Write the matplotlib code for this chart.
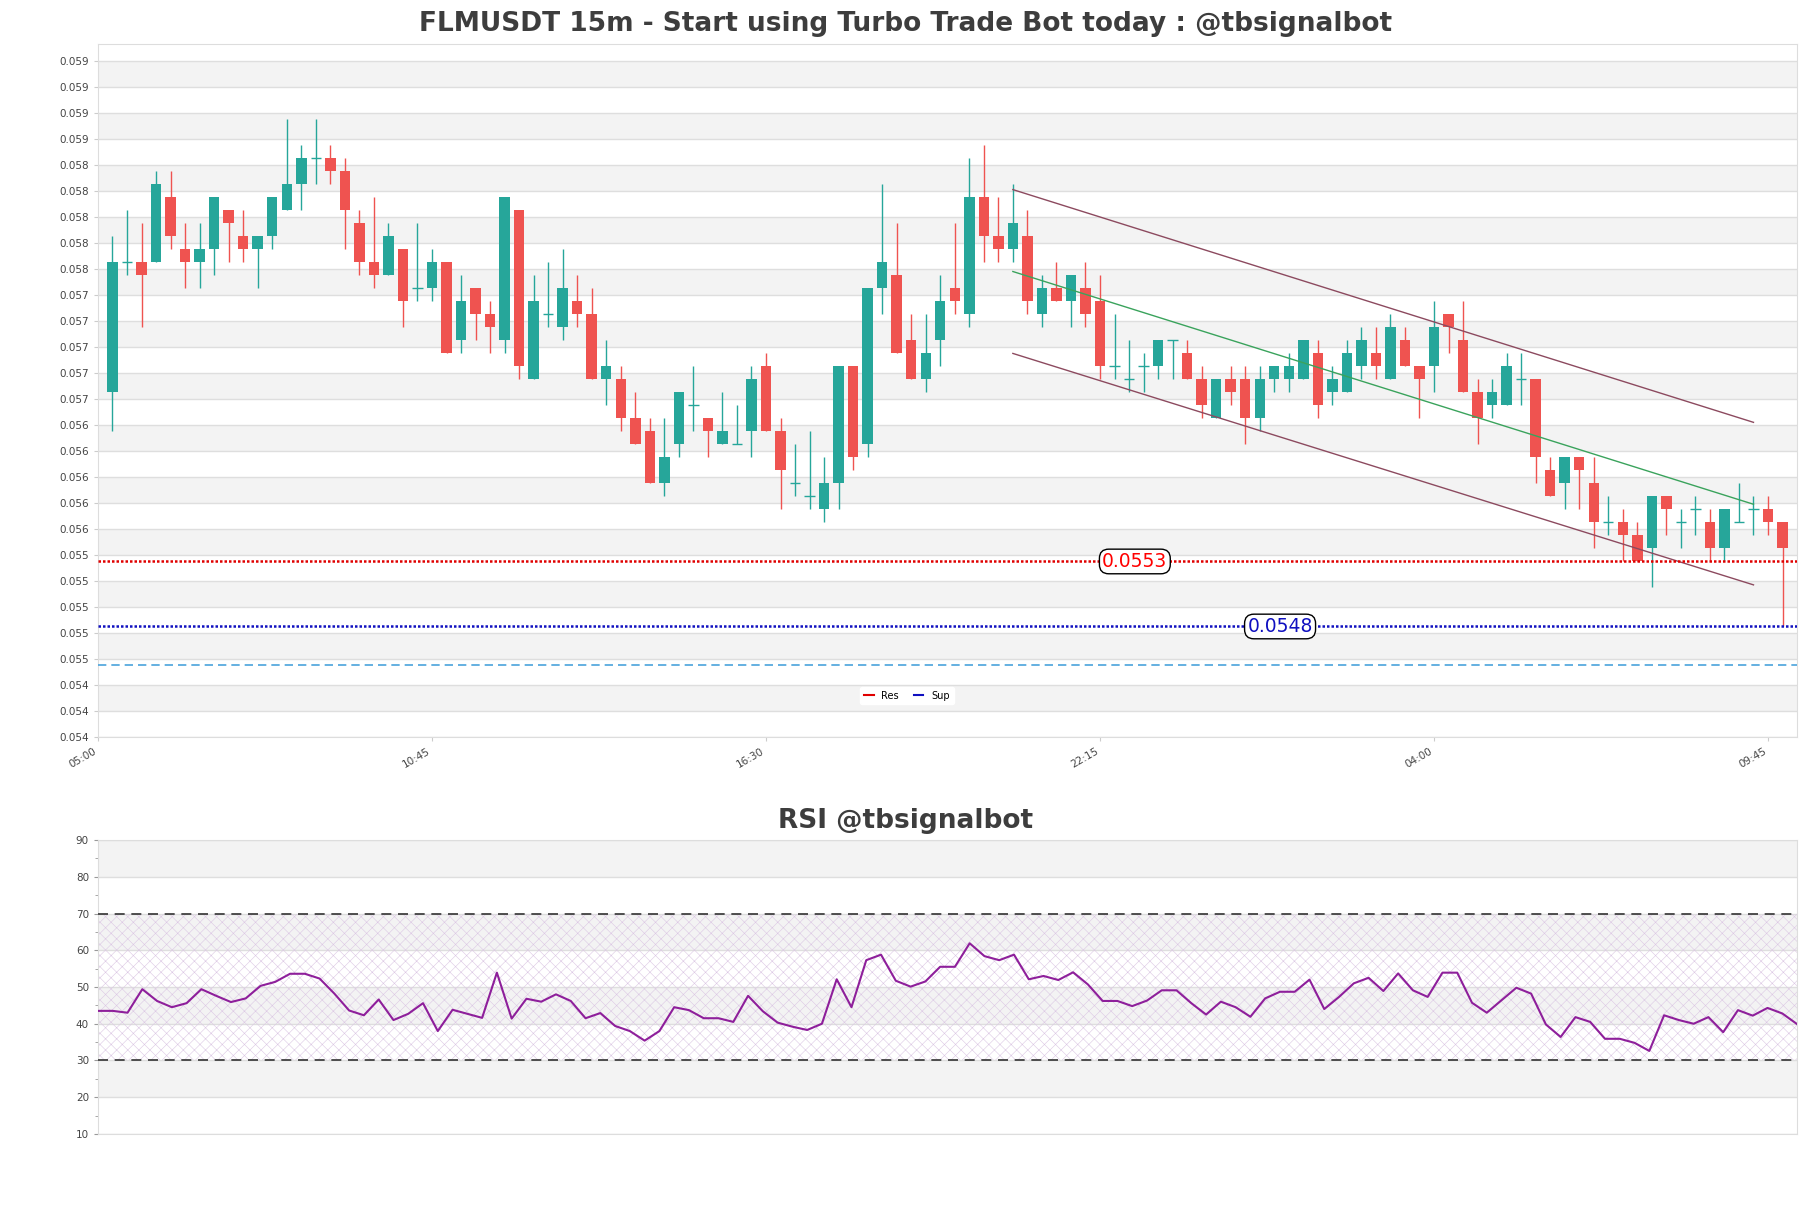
import matplotlib
matplotlib.use("Agg")
import matplotlib.pyplot as plt
import numpy as np
from matplotlib.lines import Line2D
from matplotlib.ticker import FormatStrFormatter, MultipleLocator

# FLMUSDT 15m candles, 05:15 -> 10:00 next day
opens = [
    0.0566, 0.0576, 0.0576, 0.0576, 0.0581, 0.0577, 0.0576, 0.0577, 0.0580, 0.0578,
    0.0577, 0.0578, 0.0580, 0.0582, 0.0584, 0.0584, 0.0583, 0.0579, 0.0576, 0.0575,
    0.0577, 0.0574, 0.0574, 0.0576, 0.0570, 0.0574, 0.0572, 0.0570, 0.0580, 0.0567,
    0.0572, 0.0571, 0.0573, 0.0572, 0.0567, 0.0567, 0.0564, 0.0563, 0.0559, 0.0562,
    0.0565, 0.0564, 0.0562, 0.0562, 0.0563, 0.0568, 0.0563, 0.0559, 0.0558, 0.0557,
    0.0559, 0.0568, 0.0562, 0.0574, 0.0575, 0.0570, 0.0567, 0.0570, 0.0574, 0.0572,
    0.0581, 0.0578, 0.0577, 0.0578, 0.0572, 0.0574, 0.0573, 0.0574, 0.0573, 0.0568,
    0.0567, 0.0568, 0.0568, 0.0570, 0.0569, 0.0567, 0.0564, 0.0567, 0.0567, 0.0564,
    0.0567, 0.0567, 0.0567, 0.0569, 0.0566, 0.0566, 0.0568, 0.0569, 0.0567, 0.0570,
    0.0568, 0.0568, 0.0572, 0.0570, 0.0566, 0.0565, 0.0565, 0.0567, 0.0567, 0.0560,
    0.0559, 0.0561, 0.0559, 0.0556, 0.0556, 0.0555, 0.0554, 0.0558, 0.0556, 0.0557,
    0.0556, 0.0554, 0.0556, 0.0557, 0.0557, 0.0556,
]
highs = [
    0.0578, 0.0580, 0.0579, 0.0583, 0.0583, 0.0579, 0.0579, 0.0581, 0.0580, 0.0580,
    0.0578, 0.0581, 0.0587, 0.0585, 0.0587, 0.0585, 0.0584, 0.0580, 0.0581, 0.0579,
    0.0577, 0.0579, 0.0577, 0.0576, 0.0575, 0.0574, 0.0573, 0.0581, 0.0580, 0.0575,
    0.0576, 0.0577, 0.0575, 0.0574, 0.0570, 0.0568, 0.0566, 0.0564, 0.0564, 0.0566,
    0.0568, 0.0564, 0.0566, 0.0565, 0.0568, 0.0569, 0.0564, 0.0562, 0.0563, 0.0561,
    0.0568, 0.0568, 0.0574, 0.0582, 0.0579, 0.0572, 0.0572, 0.0575, 0.0579, 0.0584,
    0.0585, 0.0581, 0.0582, 0.0580, 0.0575, 0.0576, 0.0575, 0.0576, 0.0575, 0.0572,
    0.0570, 0.0569, 0.0570, 0.0570, 0.0570, 0.0568, 0.0567, 0.0568, 0.0568, 0.0568,
    0.0568, 0.0569, 0.0570, 0.0570, 0.0568, 0.0570, 0.0571, 0.0571, 0.0572, 0.0571,
    0.0568, 0.0573, 0.0572, 0.0573, 0.0567, 0.0567, 0.0569, 0.0569, 0.0567, 0.0561,
    0.0561, 0.0561, 0.0561, 0.0558, 0.0557, 0.0556, 0.0558, 0.0558, 0.0557, 0.0558,
    0.0557, 0.0557, 0.0559, 0.0558, 0.0558, 0.0556,
]
lows = [
    0.0563, 0.0575, 0.0571, 0.0576, 0.0577, 0.0574, 0.0574, 0.0575, 0.0576, 0.0576,
    0.0574, 0.0577, 0.0580, 0.0580, 0.0582, 0.0582, 0.0577, 0.0575, 0.0574, 0.0575,
    0.0571, 0.0573, 0.0573, 0.0569, 0.0569, 0.0570, 0.0569, 0.0569, 0.0567, 0.0567,
    0.0571, 0.0570, 0.0571, 0.0567, 0.0565, 0.0563, 0.0562, 0.0559, 0.0558, 0.0561,
    0.0563, 0.0561, 0.0562, 0.0562, 0.0561, 0.0563, 0.0557, 0.0558, 0.0557, 0.0556,
    0.0557, 0.0560, 0.0561, 0.0572, 0.0569, 0.0567, 0.0566, 0.0568, 0.0572, 0.0571,
    0.0576, 0.0576, 0.0576, 0.0572, 0.0571, 0.0573, 0.0571, 0.0571, 0.0567, 0.0567,
    0.0566, 0.0566, 0.0567, 0.0567, 0.0567, 0.0564, 0.0564, 0.0565, 0.0562, 0.0563,
    0.0566, 0.0566, 0.0567, 0.0564, 0.0565, 0.0566, 0.0567, 0.0567, 0.0567, 0.0568,
    0.0564, 0.0566, 0.0569, 0.0566, 0.0562, 0.0564, 0.0565, 0.0565, 0.0559, 0.0558,
    0.0557, 0.0557, 0.0554, 0.0555, 0.0553, 0.0553, 0.0551, 0.0555, 0.0554, 0.0555,
    0.0553, 0.0553, 0.0556, 0.0555, 0.0555, 0.0548,
]
closes = [
    0.0576, 0.0576, 0.0575, 0.0582, 0.0578, 0.0576, 0.0577, 0.0581, 0.0579, 0.0577,
    0.0578, 0.0581, 0.0582, 0.0584, 0.0584, 0.0583, 0.0580, 0.0576, 0.0575, 0.0578,
    0.0573, 0.0574, 0.0576, 0.0569, 0.0573, 0.0572, 0.0571, 0.0581, 0.0568, 0.0573,
    0.0572, 0.0574, 0.0572, 0.0567, 0.0568, 0.0564, 0.0562, 0.0559, 0.0561, 0.0566,
    0.0565, 0.0563, 0.0563, 0.0562, 0.0567, 0.0563, 0.0560, 0.0559, 0.0558, 0.0559,
    0.0568, 0.0561, 0.0574, 0.0576, 0.0569, 0.0567, 0.0569, 0.0573, 0.0573, 0.0581,
    0.0578, 0.0577, 0.0579, 0.0573, 0.0574, 0.0573, 0.0575, 0.0572, 0.0568, 0.0568,
    0.0567, 0.0568, 0.0570, 0.0570, 0.0567, 0.0565, 0.0567, 0.0566, 0.0564, 0.0567,
    0.0568, 0.0568, 0.0570, 0.0565, 0.0567, 0.0569, 0.0570, 0.0568, 0.0571, 0.0568,
    0.0567, 0.0571, 0.0571, 0.0566, 0.0564, 0.0566, 0.0568, 0.0567, 0.0561, 0.0558,
    0.0561, 0.0560, 0.0556, 0.0556, 0.0555, 0.0553, 0.0558, 0.0557, 0.0556, 0.0557,
    0.0554, 0.0557, 0.0556, 0.0557, 0.0556, 0.0554,
]

rsi = [
    43.5, 43.5, 43.0, 49.4, 46.2, 44.5, 45.6, 49.4, 47.6, 45.9,
    46.9, 50.3, 51.4, 53.6, 53.6, 52.3, 48.2, 43.6, 42.3, 46.6,
    41.0, 42.7, 45.6, 38.0, 43.8, 42.7, 41.6, 53.9, 41.4, 46.8,
    46.0, 48.0, 46.2, 41.5, 42.9, 39.4, 38.0, 35.4, 38.0, 44.5,
    43.7, 41.5, 41.5, 40.5, 47.6, 43.4, 40.3, 39.2, 38.3, 40.0,
    52.1, 44.5, 57.3, 58.8, 51.7, 50.1, 51.5, 55.5, 55.5, 61.9,
    58.4, 57.3, 58.8, 52.1, 53.0, 51.9, 54.0, 50.7, 46.2, 46.2,
    44.8, 46.3, 49.1, 49.1, 45.6, 42.5, 46.0, 44.5, 41.9, 46.9,
    48.7, 48.7, 52.0, 44.0, 47.3, 51.0, 52.5, 48.9, 53.7, 49.1,
    47.3, 53.9, 53.9, 45.7, 43.0, 46.4, 49.8, 48.2, 39.8, 36.4,
    41.8, 40.5, 35.9, 35.9, 34.8, 32.6, 42.3, 41.0, 40.0, 41.8,
    37.7, 43.7, 42.2, 44.3, 42.8, 39.9,
]

time_labels = ["05:00", "10:45", "16:30", "22:15", "04:00", "09:45"]

res_level = 0.0553
sup_level = 0.0548
dash_level = 0.0545

# descending channel (start candle, end candle)
chan_x = [62, 113]
chan_upper = [0.05816, 0.05637]
chan_mid = [0.05753, 0.05574]
chan_lower = [0.05690, 0.05512]

GREEN = "#26a69a"
RED = "#ef5350"
TXT = "#3d3d3d"

fig = plt.figure(figsize=(18.11, 12.08), dpi=100)
ax = fig.add_axes([0.0541, 0.3899, 0.9382, 0.5737])
ax2 = fig.add_axes([0.0541, 0.0613, 0.9382, 0.2433])

o = np.array(opens)
h = np.array(highs)
l = np.array(lows)
c = np.array(closes)
x = np.arange(len(o))
up = c >= o
cols = np.where(up, GREEN, RED)

# background bands + grid
ymin, ymax = 0.05395, 0.05928
yt = np.arange(0.05395, 0.0592, 0.0002)
for i in range(len(yt) - 1):
    if i % 2 == 1:
        ax.axhspan(yt[i], yt[i + 1], color="#f3f3f3", lw=0, zorder=0)
for y in yt:
    ax.axhline(y, color="#dedede", lw=1, zorder=0.5)

ax.vlines(x, l, h, colors=cols, lw=1, zorder=2)
body = np.abs(c - o)
ax.bar(x, body, bottom=np.minimum(o, c), width=0.72, color=cols, zorder=3)
doji = body < 1e-9
ax.hlines(o[doji], x[doji] - 0.36, x[doji] + 0.36, colors=cols[doji], lw=1, zorder=3)

ax.plot(chan_x, chan_upper, color="#8c4a5f", lw=1, zorder=4)
ax.plot(chan_x, chan_lower, color="#8c4a5f", lw=1, zorder=4)
ax.plot(chan_x, chan_mid, color="#3aa35c", lw=1, zorder=4)

ax.axhline(res_level, color="#e00000", lw=1.8, ls=(0, (1, 0.8)), zorder=4)
ax.axhline(sup_level, color="#1010c0", lw=1.8, ls=(0, (1, 0.8)), zorder=4)
ax.axhline(dash_level, color="#4aa3dc", lw=1.2, ls=(0, (5, 3)), zorder=4)
ax.text(70.4, res_level, "%.4f" % res_level, color="red", fontsize=13.5, ha="center", va="center", zorder=6,
        bbox=dict(boxstyle="round,pad=0.15,rounding_size=0.5", fc="white", ec="black", lw=1))
ax.text(80.4, sup_level, "%.4f" % sup_level, color="#1010c0", fontsize=13.5, ha="center", va="center", zorder=6,
        bbox=dict(boxstyle="round,pad=0.15,rounding_size=0.5", fc="white", ec="black", lw=1))

handles = [Line2D([0], [0], color="#e00000", lw=1.5), Line2D([0], [0], color="#1010c0", lw=1.5)]
leg = ax.legend(handles, ["Res", "Sup"], loc="lower center", bbox_to_anchor=(0.476, 0.04), ncol=2,
                fontsize=7, handlelength=1.0, frameon=True, framealpha=1, edgecolor="white",
                columnspacing=1.5)

ax.set_xlim(-1, len(o))
ax.set_ylim(ymin, ymax)
ax.set_yticks(yt)
ax.yaxis.set_major_formatter(FormatStrFormatter("%.3f"))
ax.set_xticks(np.arange(-1, len(o), 23))
ax.set_xticklabels(time_labels, rotation=30, ha="right")
ax.tick_params(axis="both", labelsize=7.5, colors="#cccccc", labelcolor="#444444", length=3)
for s in ax.spines.values():
    s.set_color("#dddddd")
fig.text(0.5, 0.9800, "FLMUSDT 15m - Start using Turbo Trade Bot today : @tbsignalbot", fontsize=19,
         fontweight="bold", color=TXT, ha="center", va="center")

# RSI panel
r = np.array(rsi)
xr = np.arange(len(r))
for lo in (20, 40, 60, 80):
    ax2.axhspan(lo, lo + 10, color="#f3f3f3", lw=0, zorder=0)
for y in range(10, 91, 10):
    ax2.axhline(y, color="#dedede", lw=1, zorder=0.5)
plt.rcParams["hatch.linewidth"] = 0.4
ax2.axhspan(30, 70, facecolor="none", edgecolor="#dcc8e4", hatch="xxx", lw=0, zorder=1)
ax2.axhline(70, color="#333333", lw=1.2, ls=(0, (6, 4)), zorder=3)
ax2.axhline(30, color="#333333", lw=1.2, ls=(0, (6, 4)), zorder=3)
ax2.plot(xr, r, color="#8e1f9b", lw=1.5, zorder=4)
ax2.set_xlim(0, len(r) - 1)
ax2.set_ylim(10, 90)
ax2.set_xticks([])
ax2.yaxis.set_major_locator(MultipleLocator(10))
ax2.yaxis.set_minor_locator(MultipleLocator(5))
ax2.tick_params(axis="y", which="both", labelsize=7.5, colors="#999999", labelcolor="#444444", length=3)
ax2.tick_params(axis="y", which="minor", length=2)
for s in ax2.spines.values():
    s.set_color("#dddddd")
fig.text(0.5, 0.3200, "RSI @tbsignalbot", fontsize=19, fontweight="bold", color=TXT,
         ha="center", va="center")

fig.savefig("out.png", dpi=100)
